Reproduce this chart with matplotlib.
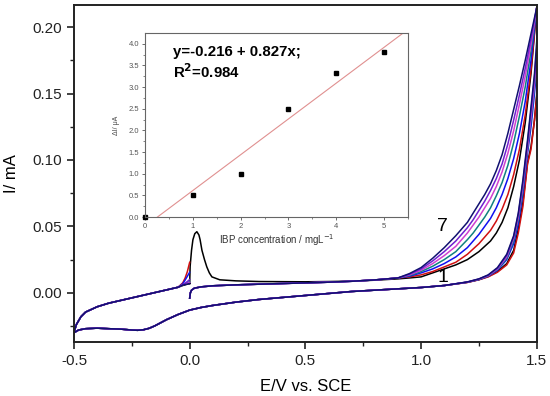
import numpy as np
import matplotlib
matplotlib.use("Agg")
import matplotlib.pyplot as plt

plt.rcParams['font.family'] = ['Liberation Sans', 'DejaVu Sans']

# ---------------- main CV data ----------------
cycle_labels = ["1", "2", "3", "4", "5", "6", "7"]
cycle_colors = ["#000000", "#d01010", "#1010f0", "#108080", "#d040d0", "#7020d0", "#101070"]

# forward scan 0.0 -> 0.9 V (cycles 2-7)
E_fwd_low = [0.0, 0.003, 0.008, 0.02, 0.05, 0.1, 0.2, 0.3, 0.4, 0.5, 0.6, 0.7, 0.8, 0.9]
I_fwd_low = [-0.004, 0.0, 0.002, 0.0035, 0.0045, 0.0053, 0.006, 0.0065, 0.007, 0.0075,
             0.008, 0.0087, 0.0097, 0.0112]
# forward scan of cycle 1 (oxidation peak)
E_fwd_low_c1 = [0.0, 0.002, 0.008, 0.014, 0.022, 0.031, 0.04, 0.045, 0.053, 0.064, 0.074,
                0.085, 0.096, 0.13, 0.2, 0.3, 0.5, 0.6, 0.7, 0.8, 0.9]
I_fwd_low_c1 = [0.007, 0.02, 0.032, 0.040, 0.0445, 0.046, 0.0435, 0.040, 0.032, 0.025, 0.0195,
                0.015, 0.012, 0.0098, 0.009, 0.0085, 0.0083, 0.0085, 0.0088, 0.0095, 0.0105]

# forward scan 0.95 -> 1.5 V
E_fwd_high = [0.95, 1.0, 1.05, 1.1, 1.15, 1.2, 1.225, 1.25, 1.275, 1.3, 1.325, 1.35, 1.375,
              1.4, 1.425, 1.45, 1.475, 1.5]
I_fwd_high = [
    [.0112, .012, .015, .018, .021, .025, .028, .031, .035, .039, .045, .053, .064, .080, .100, .128, .165, .215],
    [.0120, .0135, .016, .0195, .023, .029, .033, .037, .042, .047, .054, .063, .074, .089, .108, .134, .168, .215],
    [.0125, .015, .018, .022, .027, .034, .039, .044, .050, .056, .064, .074, .086, .101, .120, .144, .175, .215],
    [.013, .016, .020, .025, .031, .040, .045, .051, .057, .064, .073, .083, .096, .113, .133, .155, .182, .215],
    [.0135, .017, .022, .028, .035, .045, .051, .057, .064, .071, .080, .091, .105, .122, .142, .163, .187, .215],
    [.014, .018, .024, .031, .039, .049, .055, .062, .069, .077, .086, .097, .112, .130, .149, .169, .191, .215],
    [.0145, .019, .026, .034, .043, .053, .060, .067, .074, .082, .092, .104, .120, .138, .156, .175, .195, .215],
]

# reverse scan 1.5 -> 1.2 V
E_rev_high = [1.5, 1.5, 1.49, 1.475, 1.46, 1.44, 1.42, 1.4, 1.37, 1.33, 1.29, 1.25, 1.2]
I_rev_high = [
    [.215, .150, .130, .110, .098, .068, .048, .032, .022, .0160, .0123, .0099, .0079],
    [.215, .148, .130, .108, .097, .065, .045, .030, .021, .0155, .0120, .0098, .0078],
    [.215, .170, .150, .125, .105, .075, .052, .037, .025, .0170, .0125, .0100, .0080],
    [.215, .175, .155, .130, .108, .078, .055, .039, .026, .0175, .0128, .0101, .0080],
    [.215, .180, .158, .133, .110, .081, .057, .041, .027, .0180, .0130, .0103, .0081],
    [.215, .185, .162, .137, .113, .083, .059, .042, .028, .0185, .0133, .0104, .0081],
    [.215, .190, .165, .140, .115, .085, .060, .043, .029, .0190, .0135, .0105, .0082],
]

# reverse scan 1.1 -> -0.5 V (all cycles)
E_rev_low = [1.1, 1.0, 0.9, 0.8, 0.7, 0.6, 0.5, 0.4, 0.3, 0.2, 0.1, 0.05, 0.0, -0.05, -0.1,
             -0.125, -0.15, -0.175, -0.2, -0.225, -0.25, -0.3, -0.35, -0.4, -0.45, -0.48, -0.5]
I_rev_low = [0.0055, 0.004, 0.003, 0.002, 0.001, -0.0005, -0.002, -0.0035, -0.005, -0.007,
             -0.0095, -0.011, -0.013, -0.0163, -0.0202, -0.0225, -0.0248, -0.0267, -0.0278,
             -0.0282, -0.028, -0.0273, -0.027, -0.0266, -0.027, -0.028, -0.030]

# forward scan -0.5 -> 0.0 V
E_ret = [-0.5, -0.49, -0.47, -0.45, -0.4, -0.35, -0.3, -0.25, -0.2, -0.15, -0.1, -0.05,
         -0.03, -0.02, -0.01, 0.0]
I_ret_common = [-0.030, -0.024, -0.018, -0.0145, -0.0105, -0.0078, -0.0058, -0.0038,
                -0.0018, 0.0002, 0.0022, 0.0042]
I_ret_end = [
    [0.0055, 0.006, 0.0065, 0.007],
    [0.0075, 0.011, 0.016, 0.023],
    [0.0068, 0.0095, 0.0125, 0.0155],
    [0.006, 0.0068, 0.0075, 0.0085],
    [0.006, 0.0066, 0.0072, 0.0078],
    [0.0062, 0.0072, 0.0085, 0.010],
    [0.0058, 0.0062, 0.0066, 0.007],
]

# ---------------- inset data ----------------
conc = [0, 1, 2, 3, 4, 5]
delta_i = [0.0, 0.5, 1.0, 2.5, 3.33, 3.8]
fit_intercept = -0.216
fit_slope = 0.827

fig = plt.figure(figsize=(5.5, 3.96), dpi=100)
ax = fig.add_axes([0.1345, 0.1364, 0.8415, 0.8506])

for k in range(7):
    if k == 0:
        E1, I1 = E_fwd_low_c1, I_fwd_low_c1
    else:
        E1, I1 = E_fwd_low, I_fwd_low
    E_all = list(E1) + E_fwd_high + E_rev_high[1:] + E_rev_low + E_ret[1:]
    I_all = list(I1) + I_fwd_high[k] + I_rev_high[k][1:] + I_rev_low + \
        (I_ret_common + I_ret_end[k])[1:]
    ax.plot(E_all, I_all, color=cycle_colors[k], lw=1.1, solid_joinstyle='round')

ax.text(1.094, 0.0496, "7", fontsize=14, ha='center', va='center')
ax.text(1.094, 0.0113, "1", fontsize=14, ha='center', va='center')

ax.set_xlim(-0.5, 1.5)
ax.set_ylim(-0.037, 0.2165)
ax.set_xticks([-0.5, 0.0, 0.5, 1.0, 1.5])
ax.set_xticklabels(["-0.5", "0.0", "0.5", "1.0", "1.5"])
ax.set_xticks([-0.25, 0.25, 0.75, 1.25], minor=True)
ax.set_yticks([0.0, 0.05, 0.10, 0.15, 0.20])
ax.set_yticklabels(["0.00", "0.05", "0.10", "0.15", "0.20"])
ax.set_yticks([-0.025, 0.025, 0.075, 0.125, 0.175], minor=True)
ax.tick_params(which='major', direction='out', length=5, width=1.2, labelsize=11, colors='#222222')
ax.tick_params(which='minor', direction='out', length=3, width=1.0, colors='#222222')
for s in ax.spines.values():
    s.set_linewidth(1.4)
    s.set_color('#222222')
ax.set_xlabel("E/V vs. SCE", fontsize=12, labelpad=8)
ax.set_ylabel("I/ mA", fontsize=12, labelpad=10)

# ---------------- inset ----------------
ins = fig.add_axes([0.2636, 0.452, 0.4782, 0.4647])
xfit = np.array([0.0, 5.5])
ins.plot(xfit, fit_intercept + fit_slope * xfit, color='#e09090', lw=0.8)
ins.plot(conc, delta_i, 's', color='black', ms=3.5, clip_on=False)
ins.set_xlim(0, 5.5)
ins.set_ylim(0, 4.25)
ins.set_xticks([0, 1, 2, 3, 4, 5])
ins.set_xticks([0.5, 1.5, 2.5, 3.5, 4.5, 5.5], minor=True)
ins.set_yticks([0.0, 0.5, 1.0, 1.5, 2.0, 2.5, 3.0, 3.5, 4.0])
ins.set_yticklabels(["0.0", "0.5", "1.0", "1.5", "2.0", "2.5", "3.0", "3.5", "4.0"])
ins.set_yticks(np.arange(0.25, 4.25, 0.5), minor=True)
ins.tick_params(which='major', direction='out', length=2.5, width=0.6, labelsize=5.5,
                colors='#555555', pad=1.5)
ins.tick_params(which='minor', direction='out', length=1.5, width=0.5, colors='#555555')
for s in ins.spines.values():
    s.set_linewidth(0.8)
    s.set_color('#666666')
ins.set_xlabel("IBP concentration / mgL$^{-1}$", fontsize=7, color='#333333', labelpad=2)
ins.set_ylabel("ΔI/ μA", fontsize=5, color='#444444', labelpad=6)
ins.text(0.106, 0.897, "y=-0.216 + 0.827x;", transform=ins.transAxes, fontsize=10.8,
         fontweight='bold', va='center', ha='left')
ins.text(0.106, 0.788, "R$^{\\mathbf{2}}$=0.984", transform=ins.transAxes, fontsize=10.8,
         fontweight='bold', va='center', ha='left')

fig.savefig("out.png", dpi=100)
